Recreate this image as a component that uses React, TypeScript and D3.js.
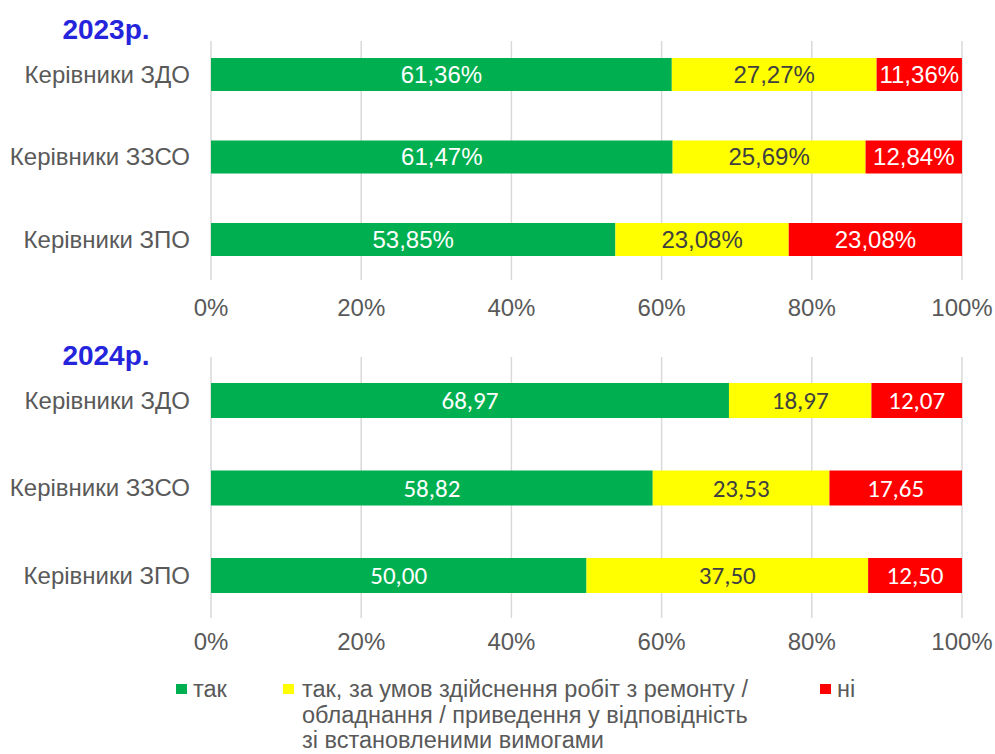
import React from "react"
import * as d3 from "d3"

// chart data
const categories = ["Керівники ЗДО", "Керівники ЗЗСО", "Керівники ЗПО"]
const seriesKeys = ["yes", "cond", "no"]
const seriesColors = ["#00B050", "#FFFF00", "#FF0000"]
const labelColors = ["#FFFFFF", "#404040", "#FFFFFF"]

const yes2023 = [61.36, 61.47, 53.85]
const cond2023 = [27.27, 25.69, 23.08]
const no2023 = [11.36, 12.84, 23.08]

const yes2024 = [68.97, 58.82, 50.0]
const cond2024 = [18.97, 23.53, 37.5]
const no2024 = [12.07, 17.65, 12.5]

const xTicks = [0, 20, 40, 60, 80, 100]

const legendLabels = [
    ["так"],
    ["так, за умов здійснення робіт з ремонту /", "обладнання / приведення у відповідність", "зі встановленими вимогами"],
    ["ні"],
]

const W = 995
const H = 754
const GREY = "#595959"
const ARIAL = "'Liberation Sans', Arial, sans-serif"

const ua = d3.formatLocale({ decimal: ",", thousands: " ", grouping: [3], currency: ["", " грн"] })
const fmt2 = ua.format(".2f")

const x = d3.scaleLinear([0, 100], [211, 962])

const toRows = (a: number[], b: number[], c: number[]) =>
    categories.map((cat, i) => ({ cat, yes: a[i], cond: b[i], no: c[i] }))

type PanelProps = {
    title: string
    titleBaseline: number
    bandRange: [number, number]
    gridTop: number
    gridBottom: number
    tickBaseline: number
    rows: { cat: string; yes: number; cond: number; no: number }[]
    labelFont: string
    labelSize: number
    suffix: string
}

function Panel({ title, titleBaseline, bandRange, gridTop, gridBottom, tickBaseline, rows, labelFont, labelSize, suffix }: PanelProps) {
    const y = d3.scaleBand<string>().domain(categories).range(bandRange).paddingInner(0.6).paddingOuter(0.3)
    const stacked = d3.stack<any>().keys(seriesKeys)(rows)

    return (
        <g>
            <text x={106} y={titleBaseline} textAnchor="middle" fontFamily={ARIAL} fontWeight="bold"
                fontSize={28} fill="#2424DC">{title}</text>

            {xTicks.map(t => (
                <line key={"g" + t} x1={x(t)} x2={x(t)} y1={gridTop} y2={gridBottom}
                    stroke="#D9D9D9" strokeWidth={1.5} />
            ))}
            {xTicks.map(t => (
                <text key={"t" + t} x={x(t)} y={tickBaseline} textAnchor="middle" fontFamily={ARIAL}
                    fontSize={24} fill={GREY}>{t}%</text>
            ))}

            {categories.map(c => (
                <text key={c} x={190} y={(y(c) as number) + y.bandwidth() / 2} dy="0.35em" textAnchor="end"
                    fontFamily={ARIAL} fontSize={24} fill={GREY}>{c}</text>
            ))}

            {stacked.map((layer, si) => (
                <g key={layer.key}>
                    {layer.map((d, i) => (
                        <rect key={i} x={x(d[0])} width={x(d[1]) - x(d[0])} y={y(rows[i].cat)}
                            height={y.bandwidth()} fill={seriesColors[si]} />
                    ))}
                    {layer.map((d, i) => (
                        <text key={"l" + i} x={(x(d[0]) + x(d[1])) / 2} y={(y(rows[i].cat) as number) + y.bandwidth() / 2}
                            dy="0.35em" textAnchor="middle" fontFamily={labelFont} fontSize={labelSize}
                            fill={labelColors[si]}>{fmt2(d[1] - d[0]) + suffix}</text>
                    ))}
                </g>
            ))}
        </g>
    )
}

export default function App() {
    const legendX = [176, 283, 820]
    return (
        <svg width={W} height={H} style={{ position: "absolute", left: 0, top: 0, background: "#fff" }}>
            <Panel title="2023р." titleBaseline={39} bandRange={[33.25, 280.75]} gridTop={41} gridBottom={280}
                tickBaseline={316} rows={toRows(yes2023, cond2023, no2023)} labelFont={ARIAL} labelSize={24} suffix="%" />
            <Panel title="2024р." titleBaseline={365} bandRange={[356.75, 619.25]} gridTop={357} gridBottom={618}
                tickBaseline={650} rows={toRows(yes2024, cond2024, no2024)} labelFont="Carlito, Lato, sans-serif"
                labelSize={25} suffix="" />

            {legendLabels.map((lines, i) => (
                <g key={i}>
                    <rect x={legendX[i]} y={684} width={11} height={10} fill={seriesColors[i]} />
                    <text fontFamily={ARIAL} fontSize={23.5} fill={GREY}>
                        {lines.map((ln, j) => (
                            <tspan key={j} x={legendX[i] + (i === 1 ? 19 : 17)} y={697 + j * 25.5}>{ln}</tspan>
                        ))}
                    </text>
                </g>
            ))}
        </svg>
    )
}
